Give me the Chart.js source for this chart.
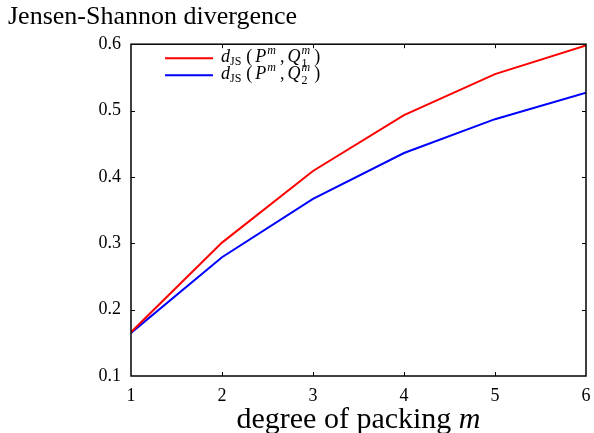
<!DOCTYPE html>
<html>
<head>
<meta charset="utf-8">
<script src="https://cdn.jsdelivr.net/npm/chart.js@4.4.0/dist/chart.umd.min.js"></script>
<style>
  html, body { margin: 0; padding: 0; background: #fff; }
  canvas#chart { display: block; }
</style>
</head>
<body>
<canvas id="chart" width="594" height="433"></canvas>
<script>
// values
const packingDegrees = [1, 2, 3, 4, 5, 6];
const jsDivergenceQ1 = [0.166, 0.301, 0.409, 0.493, 0.555, 0.598];
const jsDivergenceQ2 = [0.165, 0.279, 0.367, 0.436, 0.487, 0.527];
const seriesSubscripts = ['1', '2'];
const seriesColors = ['#ff0000', '#0000ff'];
const chartTitle = 'Jensen-Shannon divergence';
const xTitleText = 'degree of packing ';
const xTitleVar = 'm';

const serif = "'Liberation Serif', 'Times New Roman', serif";

const toPoints = (values) => values.map((v, i) => ({ x: packingDegrees[i], y: v }));

// inward tick marks on all four sides + frame
const framePlugin = {
  id: 'frame',
  afterDatasetsDraw(chart) {
    const { ctx, chartArea: a, scales } = chart;
    ctx.save();
    ctx.strokeStyle = '#000';
    ctx.lineWidth = 1;
    const len = 4;
    scales.x.ticks.forEach((t) => {
      if (t.value <= scales.x.min || t.value >= scales.x.max) return;
      const px = Math.round(scales.x.getPixelForValue(t.value)) + 0.5;
      ctx.beginPath();
      ctx.moveTo(px, a.bottom); ctx.lineTo(px, a.bottom - len);
      ctx.moveTo(px, a.top); ctx.lineTo(px, a.top + len);
      ctx.stroke();
    });
    scales.y.ticks.forEach((t) => {
      if (t.value <= scales.y.min + 1e-9 || t.value >= scales.y.max - 1e-9) return;
      const py = Math.round(scales.y.getPixelForValue(t.value)) + 0.5;
      ctx.beginPath();
      ctx.moveTo(a.left, py); ctx.lineTo(a.left + len, py);
      ctx.moveTo(a.right, py); ctx.lineTo(a.right - len, py);
      ctx.stroke();
    });
    ctx.lineWidth = 1.5;
    ctx.strokeRect(a.left, a.top, a.right - a.left, a.bottom - a.top);
    ctx.restore();
  }
};

// legend with the math labels d_JS(P^m, Q_i^m)
function drawMathLabel(ctx, x, y, sub) {
  const big = 18, small = 12;
  const piece = (text, size, italic, dy) => {
    ctx.font = (italic ? 'italic ' : '') + size + 'px ' + serif;
    ctx.fillText(text, x, y + dy);
    return ctx.measureText(text).width;
  };
  x += piece('d', big, true, 0);
  x += piece('JS', small, false, 3) + 5;
  x += piece('(', big, false, 0) + 3;
  x += piece('P', big, true, 0) + 1;
  x += piece('m', small, true, -8) + 4;
  x += piece(',', big, false, 0) + 3;
  x += piece('Q', big, true, 0) + 1;
  const w1 = piece('m', small, true, -8);
  const w2 = piece(sub, small, false, 5);
  x += Math.max(w1, w2) + 4;
  piece(')', big, false, 0);
}

const legendPlugin = {
  id: 'mathLegend',
  afterDraw(chart) {
    const { ctx, chartArea: a } = chart;
    ctx.save();
    ctx.fillStyle = '#000';
    ctx.textBaseline = 'alphabetic';
    ctx.textAlign = 'left';
    seriesSubscripts.forEach((sub, i) => {
      const y = a.top + 14 + i * 17;
      ctx.strokeStyle = seriesColors[i];
      ctx.lineWidth = 2;
      ctx.beginPath();
      ctx.moveTo(a.left + 34, y);
      ctx.lineTo(a.left + 82, y);
      ctx.stroke();
      drawMathLabel(ctx, a.left + 90, y + 4, sub);
    });
    ctx.restore();
  }
};

// x axis title with italic variable
const xTitlePlugin = {
  id: 'xTitle',
  afterDraw(chart) {
    const { ctx, chartArea: a } = chart;
    const size = 30;
    ctx.save();
    ctx.fillStyle = '#000';
    ctx.textBaseline = 'alphabetic';
    ctx.textAlign = 'left';
    ctx.font = size + 'px ' + serif;
    const w1 = ctx.measureText(xTitleText).width;
    ctx.font = 'italic ' + size + 'px ' + serif;
    const w2 = ctx.measureText(xTitleVar).width;
    let x = (a.left + a.right) / 2 - (w1 + w2) / 2;
    const y = a.bottom + 52;
    ctx.font = size + 'px ' + serif;
    ctx.fillText(xTitleText, x, y);
    ctx.font = 'italic ' + size + 'px ' + serif;
    ctx.fillText(xTitleVar, x + w1, y);
    ctx.restore();
  }
};

const chart = new Chart(document.getElementById('chart'), {
  type: 'line',
  data: {
    datasets: [
      {
        data: toPoints(jsDivergenceQ1),
        borderColor: seriesColors[0],
        borderWidth: 2,
        pointRadius: 0,
        tension: 0
      },
      {
        data: toPoints(jsDivergenceQ2),
        borderColor: seriesColors[1],
        borderWidth: 2,
        pointRadius: 0,
        tension: 0
      }
    ]
  },
  options: {
    responsive: false,
    animation: false,
    devicePixelRatio: 1,
    layout: { padding: { left: 8, right: 8, top: 0, bottom: 0 } },
    plugins: {
      legend: { display: false },
      tooltip: { enabled: false },
      title: {
        display: true,
        text: chartTitle,
        align: 'start',
        color: '#000',
        font: { family: serif, size: 26, weight: 'normal' },
        padding: { top: 2, bottom: 11 }
      }
    },
    scales: {
      x: {
        type: 'linear',
        min: 1,
        max: 6,
        grid: { display: false, drawTicks: false },
        border: { display: false },
        ticks: {
          stepSize: 1,
          padding: 9,
          color: '#000',
          maxRotation: 0,
          font: { family: serif, size: 18 }
        },
        afterFit: (scale) => {
          scale.height = 57;
          scale.paddingLeft = 0;
          scale.paddingRight = 0;
        }
      },
      y: {
        min: 0.1,
        max: 0.6,
        grid: { display: false, drawTicks: false },
        border: { display: false },
        ticks: {
          stepSize: 0.1,
          padding: 10,
          color: '#000',
          font: { family: serif, size: 18 },
          callback: (v) => v.toFixed(1)
        },
        afterFit: (scale) => {
          scale.width = 123;
          scale.paddingTop = 0;
          scale.paddingBottom = 0;
        }
      }
    }
  },
  plugins: [framePlugin, legendPlugin, xTitlePlugin]
});
</script>
</body>
</html>
